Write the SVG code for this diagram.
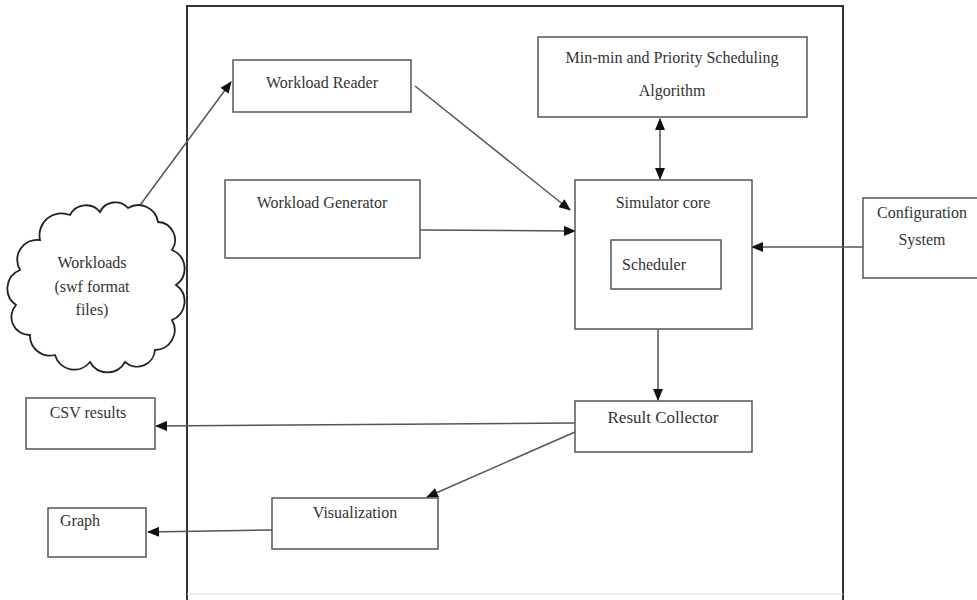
<svg xmlns="http://www.w3.org/2000/svg" width="977" height="600" viewBox="0 0 977 600">
<style>
.box{fill:#fff;stroke:#555;stroke-width:1.5}
.t{font-family:"Liberation Serif","Times New Roman",serif;font-size:16px;fill:#333;text-anchor:middle}
.c{fill:none;stroke:#555;stroke-width:1.5}
</style>
<defs>
<marker id="ah" markerWidth="12" markerHeight="10" refX="11" refY="5" orient="auto" markerUnits="userSpaceOnUse">
<path d="M0,0 L12,5 L0,10 Z" fill="#111"/>
</marker>
<marker id="as" markerWidth="12" markerHeight="10" refX="1" refY="5" orient="auto" markerUnits="userSpaceOnUse">
<path d="M12,0 L0,5 L12,10 Z" fill="#111"/>
</marker>
</defs>
<rect width="977" height="600" fill="#fff"/>
<g id="frame"><path d="M187,600 V6 H843 V600" fill="none" stroke="#333" stroke-width="2"/><line x1="187" y1="594" x2="843" y2="594" stroke="#ddd" stroke-width="1"/></g>

<g id="connectors">
<line class="c" x1="135" y1="212" x2="231" y2="82" marker-end="url(#ah)"/>
<line class="c" x1="415" y1="86" x2="570" y2="210" marker-end="url(#ah)"/>
<line class="c" x1="420" y1="230" x2="575" y2="231" marker-end="url(#ah)"/>
<line class="c" x1="660" y1="119" x2="660" y2="179" marker-start="url(#as)" marker-end="url(#ah)"/>
<line class="c" x1="863" y1="247" x2="752" y2="247" marker-end="url(#ah)"/>
<line class="c" x1="658" y1="329" x2="658" y2="400" marker-end="url(#ah)"/>
<line class="c" x1="575" y1="423" x2="156" y2="426" marker-end="url(#ah)"/>
<line class="c" x1="575" y1="432" x2="427" y2="497" marker-end="url(#ah)"/>
<line class="c" x1="272" y1="530" x2="148" y2="532" marker-end="url(#ah)"/>
</g>

<g id="workloads">
<path d="M40,240 A22,22 0 0 1 70,215 A18,18 0 0 1 100,212 A17,17 0 0 1 128,208 A20,20 0 0 1 158,222 A18,18 0 0 1 172,250 A20,20 0 0 1 176,285 A20,20 0 0 1 172,320 A20,20 0 0 1 155,350 A18,18 0 0 1 125,362 A20,20 0 0 1 90,362 A20,20 0 0 1 55,355 A20,20 0 0 1 30,335 A18,18 0 0 1 16,305 A20,20 0 0 1 20,270 A20,20 0 0 1 40,240 Z" fill="#fff" stroke="#222" stroke-width="1.8"/>
<text class="t" x="92" y="268">Workloads</text>
<text class="t" x="92" y="292">(swf format</text>
<text class="t" x="92" y="315">files)</text>
</g>

<g id="workload-reader">
<rect class="box" x="233" y="60" width="178" height="52"/>
<text class="t" x="322" y="88">Workload Reader</text>
</g>

<g id="minmin">
<rect class="box" x="538" y="37" width="269" height="80"/>
<text class="t" x="672" y="63">Min-min and Priority Scheduling</text>
<text class="t" x="672" y="96">Algorithm</text>
</g>

<g id="workload-generator">
<rect class="box" x="225" y="180" width="195" height="78"/>
<text class="t" x="322" y="208">Workload Generator</text>
</g>

<g id="simulator-core">
<rect class="box" x="575" y="180" width="177" height="149"/>
<text class="t" x="663" y="208">Simulator core</text>
</g>

<g id="scheduler">
<rect class="box" x="611" y="240" width="110" height="49"/>
<text class="t" x="654" y="270">Scheduler</text>
</g>

<g id="configuration">
<rect class="box" x="863" y="198" width="118" height="80"/>
<text class="t" x="922" y="218">Configuration</text>
<text class="t" x="922" y="245">System</text>
</g>

<g id="result-collector">
<rect class="box" x="575" y="401" width="177" height="51"/>
<text class="t" x="663" y="423" style="font-size:17px">Result Collector</text>
</g>

<g id="csv">
<rect class="box" x="26" y="398" width="129" height="51"/>
<text class="t" x="88" y="418">CSV results</text>
</g>

<g id="visualization">
<rect class="box" x="272" y="498" width="166" height="51"/>
<text class="t" x="355" y="518">Visualization</text>
</g>

<g id="graph">
<rect class="box" x="48" y="508" width="98" height="49"/>
<text class="t" x="80" y="526">Graph</text>
</g>
</svg>
